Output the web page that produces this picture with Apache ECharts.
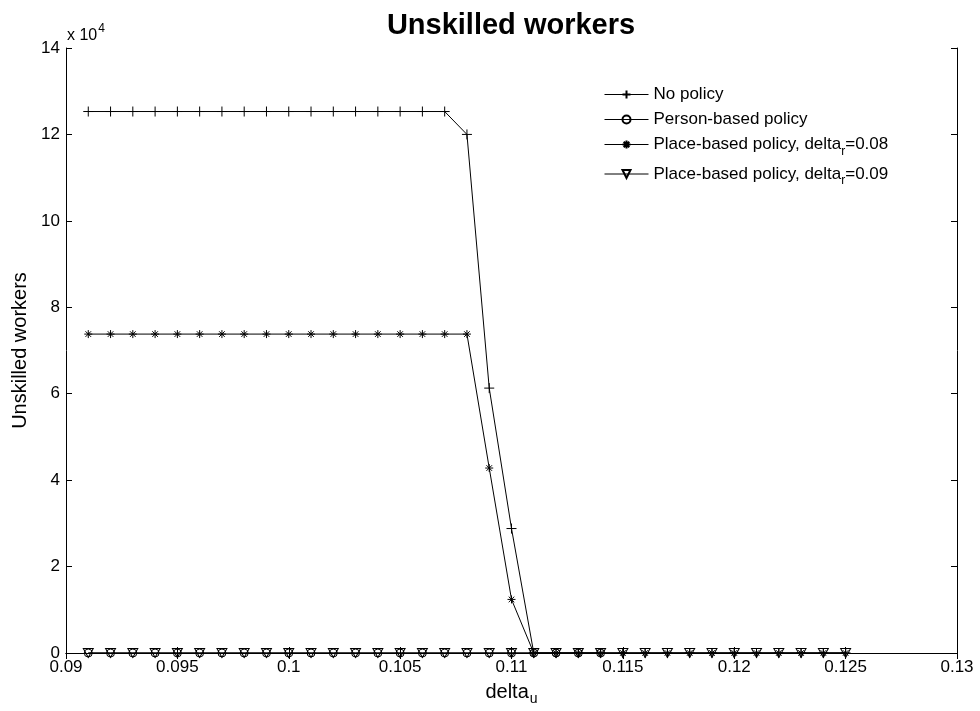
<!DOCTYPE html>
<html>
<head>
<meta charset="utf-8">
<script src="https://cdn.jsdelivr.net/npm/echarts@6/dist/echarts.min.js"></script>
<style>html,body{margin:0;padding:0;background:#fff}#c{width:980px;height:711px}</style>
</head>
<body>
<div id="c"></div>
<script>
const xValues = [0.091,0.092,0.093,0.094,0.095,0.096,0.097,0.098,0.099,0.100,
  0.101,0.102,0.103,0.104,0.105,0.106,0.107,0.108,0.109,0.110,
  0.111,0.112,0.113,0.114,0.115,0.116,0.117,0.118,0.119,0.120,
  0.121,0.122,0.123,0.124,0.125];
const noPolicy = [125300,125300,125300,125300,125300,125300,125300,125300,125300,125300,
  125300,125300,125300,125300,125300,125300,125300,120000,61300,28800,
  0,0,0,0,0,0,0,0,0,0,
  0,0,0,0,0];
const personBased = [0,0,0,0,0,0,0,0,0,0,
  0,0,0,0,0,0,0,0,0,0,
  0,0,0,0];
const placeBased08 = [73800,73800,73800,73800,73800,73800,73800,73800,73800,73800,
  73800,73800,73800,73800,73800,73800,73800,73800,42800,12400,
  0,0,0,0,0,0,0,0,0,0,
  0,0,0,0,0];
const placeBased09 = [0,0,0,0,0,0,0,0,0,0,
  0,0,0,0,0,0,0,0,0,0,
  0,0,0,0,0,0,0,0,0,0,
  0,0,0,0,0];
const seriesNames = ['No policy','Person-based policy','Place-based policy, delta_r=0.08','Place-based policy, delta_r=0.09'];
const xTickMin = 0.09, xTickMax = 0.13, xTickStep = 0.005;
const yTickMin = 0, yTickMax = 140000, yTickStep = 20000;

const FONT = '"Liberation Sans", Arial, Helvetica, sans-serif';
const pairs = arr => arr.map((v, i) => [xValues[i], v]);

const PLUS = 'path://M0,5L10,5M5,0L5,10';
const STAR = 'path://M5,0L5,10M0,5L10,5M1.5,1.5L8.5,8.5M8.5,1.5L1.5,8.5';
const TRI = 'path://M0,0L10,0L5,8.66Z';

function mkSeries(name, data, symbol, size) {
  return {
    name: name, type: 'line', data: pairs(data),
    symbol: symbol, symbolSize: size, showAllSymbol: true,
    lineStyle: { color: '#000', width: 1 },
    itemStyle: { color: 'rgba(0,0,0,0)', borderColor: '#000', borderWidth: 1 },
    emphasis: { disabled: true },
    silent: true
  };
}

const chart = echarts.init(document.getElementById('c'), null, { renderer: 'canvas' });
const axisCommon = {
  type: 'value',
  axisLine: { show: true, lineStyle: { color: '#000', width: 1 } },
  axisTick: { show: true, inside: true, length: 6, lineStyle: { color: '#000', width: 1 } },
  splitLine: { show: false }
};
chart.setOption({
  animation: false,
  backgroundColor: '#fff',
  textStyle: { fontFamily: FONT },
  grid: { left: 66, right: 23, top: 48, bottom: 58, containLabel: false, outerBoundsMode: 'none' },
  xAxis: [
    Object.assign({}, axisCommon, {
      position: 'bottom', min: xTickMin, max: xTickMax, interval: xTickStep,
      axisLabel: { fontSize: 17, color: '#000', margin: 6, fontFamily: FONT },
      name: '{a|delta}{b|u}', nameLocation: 'middle', nameGap: 25,
      nameTextStyle: { color: '#000', fontFamily: FONT, rich: {
        a: { fontSize: 20, color: '#000', fontFamily: FONT },
        b: { fontSize: 14, color: '#000', fontFamily: FONT, padding: [14, 0, 0, 1] }
      } }
    }),
    Object.assign({}, axisCommon, {
      position: 'top', min: xTickMin, max: xTickMax, interval: xTickStep,
      axisLabel: { show: false }
    })
  ],
  yAxis: [
    Object.assign({}, axisCommon, {
      position: 'left', min: yTickMin, max: yTickMax, interval: yTickStep,
      axisLabel: { fontSize: 17, color: '#000', margin: 6, fontFamily: FONT,
        formatter: v => String(v / 10000) },
      name: 'Unskilled workers', nameLocation: 'middle', nameGap: 31, nameRotate: 90,
      nameTextStyle: { fontSize: 20, color: '#000', fontFamily: FONT }
    }),
    Object.assign({}, axisCommon, {
      position: 'right', min: yTickMin, max: yTickMax, interval: yTickStep,
      axisLabel: { show: false }
    })
  ],
  legend: {
    orient: 'vertical', left: 604, top: 86, padding: 0, itemWidth: 44, itemHeight: 10, itemGap: 8,
    selectedMode: false,
    data: seriesNames,
    lineStyle: { width: 1, color: '#000' },
    formatter: function (n) {
      const m = n.match(/^(.*delta)_r(=.*)$/);
      if (m) return '{a|' + m[1] + '}{s|r}{a|' + m[2] + '}';
      return '{a|' + n + '}';
    },
    textStyle: { fontSize: 17, color: '#000', fontFamily: FONT, rich: {
      a: { fontSize: 17, color: '#000', fontFamily: FONT },
      s: { fontSize: 12, color: '#000', fontFamily: FONT, padding: [14, 0, 0, 0] }
    } }
  },
  graphic: [
    { type: 'text', x: 511, y: 26, style: { text: 'Unskilled workers', textAlign: 'center', textVerticalAlign: 'middle',
      font: 'bold 29px ' + FONT, fill: '#000' } },
    { type: 'text', x: 67, y: 36, style: { text: '{a|x 10}{b|4}', textVerticalAlign: 'middle', fill: '#000',
      rich: { a: { fontSize: 16, fontFamily: FONT, fill: '#000' },
              b: { fontSize: 12, fontFamily: FONT, fill: '#000', padding: [0, 0, 14, 1] } } } }
  ],
  series: [
    mkSeries(seriesNames[0], noPolicy, PLUS, 10),
    mkSeries(seriesNames[1], personBased, 'circle', 8),
    mkSeries(seriesNames[2], placeBased08, STAR, 8),
    mkSeries(seriesNames[3], placeBased09, TRI, [10, 9])
  ]
});
</script>
</body>
</html>
